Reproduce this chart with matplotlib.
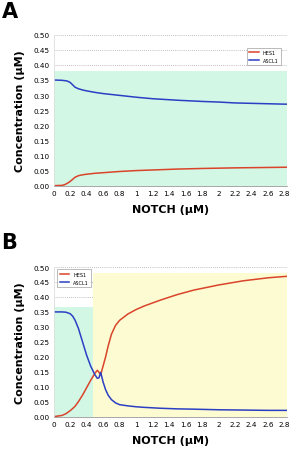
import numpy as np
import matplotlib.pyplot as plt

# panel A
notch_a = [0, 0.1, 0.13, 0.16, 0.2, 0.23, 0.26, 0.3, 0.35, 0.4, 0.5, 0.6, 0.8, 1.0, 1.2, 1.5, 1.8, 2.0, 2.2, 2.5, 2.8, 2.83]
hes1_a = [0, 0.001, 0.003, 0.007, 0.014, 0.021, 0.028, 0.033, 0.036, 0.038, 0.041, 0.043, 0.047, 0.050, 0.052, 0.055, 0.057,
          0.058, 0.059, 0.060, 0.061, 0.061]
ascl1_a = [0.35, 0.349, 0.348, 0.347, 0.342, 0.334, 0.326, 0.321, 0.317, 0.314, 0.309, 0.305, 0.299, 0.293, 0.288, 0.283,
           0.279, 0.277, 0.274, 0.272, 0.270, 0.270]

# panel B
notch_b = [0, 0.1, 0.15, 0.2, 0.23, 0.26, 0.3, 0.35, 0.4, 0.45, 0.5, 0.53, 0.55, 0.57, 0.6, 0.63, 0.66, 0.7, 0.75, 0.8, 0.9,
           1.0, 1.1, 1.3, 1.5, 1.7, 2.0, 2.3, 2.6, 2.83]
hes1_b = [0, 0.004, 0.01, 0.02, 0.027, 0.035, 0.05, 0.072, 0.097, 0.122, 0.145, 0.155, 0.148, 0.14, 0.17, 0.2, 0.235, 0.275,
          0.305, 0.322, 0.343, 0.358, 0.37, 0.39, 0.408, 0.423, 0.44, 0.454, 0.464, 0.469]
ascl1_b = [0.35, 0.35, 0.349, 0.344, 0.336, 0.322, 0.295, 0.25, 0.205, 0.168, 0.14, 0.128, 0.13, 0.148, 0.115, 0.09, 0.072,
           0.057, 0.046, 0.04, 0.036, 0.033, 0.031, 0.028, 0.026, 0.025, 0.023, 0.022, 0.021, 0.021]

xticks = [0, 0.2, 0.4, 0.6, 0.8, 1, 1.2, 1.4, 1.6, 1.8, 2, 2.2, 2.4, 2.6, 2.8]
xlabels = ["0", "0.2", "0.4", "0.6", "0.8", "1", "1.2", "1.4", "1.6", "1.8", "2", "2.2", "2.4", "2.6", "2.8"]
yticks = np.arange(0, 0.51, 0.05)

red = "#d9442a"
blue = "#2b3fc4"
green = "#d3f7e5"
yellow = "#fdfbd2"

fig = plt.figure(figsize=(3.05, 4.52), dpi=100)


def setup(ax):
    ax.set_xlim(0, 2.83)
    ax.set_ylim(0, 0.5)
    ax.set_xticks(xticks)
    ax.set_xticklabels(xlabels)
    ax.set_yticks(yticks)
    ax.set_yticklabels(["%.2f" % v for v in yticks])
    ax.tick_params(labelsize=5.2, length=0, pad=3)
    ax.grid(axis="y", color="#aaaaaa", linestyle=(0, (1, 1.5)), linewidth=0.6)
    ax.set_axisbelow(True)
    for s in ["top", "right"]:
        ax.spines[s].set_visible(False)
    ax.spines["left"].set_color("#dddddd")
    ax.spines["left"].set_linewidth(0.6)
    ax.spines["bottom"].set_color("#999999")
    ax.spines["bottom"].set_linewidth(0.6)
    ax.set_xlabel("NOTCH (µM)", fontsize=8, fontweight="bold", labelpad=6)
    ax.set_ylabel("Concentration (µM)", fontsize=8, fontweight="bold", labelpad=6)


axA = fig.add_axes([0.176, 0.587, 0.765, 0.334])
setup(axA)
axA.fill_between([0, 2.83], 0, 0.38, color=green, lw=0)
axA.plot(notch_a, hes1_a, color=red, lw=1.1, label="HES1")
axA.plot(notch_a, ascl1_a, color=blue, lw=1.1, label="ASCL1")
leg = axA.legend(loc="upper right", bbox_to_anchor=(0.985, 0.93), fontsize=3.5, frameon=True,
                 fancybox=False, edgecolor="#888888", handlelength=2, borderpad=0.5, labelspacing=0.6)
leg.get_frame().set_linewidth(0.5)

axB = fig.add_axes([0.176, 0.076, 0.765, 0.331])
setup(axB)
axB.fill_between([0, 0.48], 0, 0.367, color=green, lw=0)
axB.fill_between([0.48, 2.83], 0, 0.481, color=yellow, lw=0)
axB.plot(notch_b, hes1_b, color=red, lw=1.1, label="HES1")
axB.plot(notch_b, ascl1_b, color=blue, lw=1.1, label="ASCL1")
leg = axB.legend(loc="upper left", bbox_to_anchor=(0.005, 1.0), fontsize=3.5, frameon=True,
                 fancybox=False, edgecolor="#888888", handlelength=2, borderpad=0.5, labelspacing=0.6)
leg.get_frame().set_linewidth(0.5)

fig.text(0.005, 0.995, "A", fontsize=15, fontweight="bold", va="top", ha="left")
fig.text(0.005, 0.485, "B", fontsize=15, fontweight="bold", va="top", ha="left")

fig.savefig("out.png", dpi=100)
